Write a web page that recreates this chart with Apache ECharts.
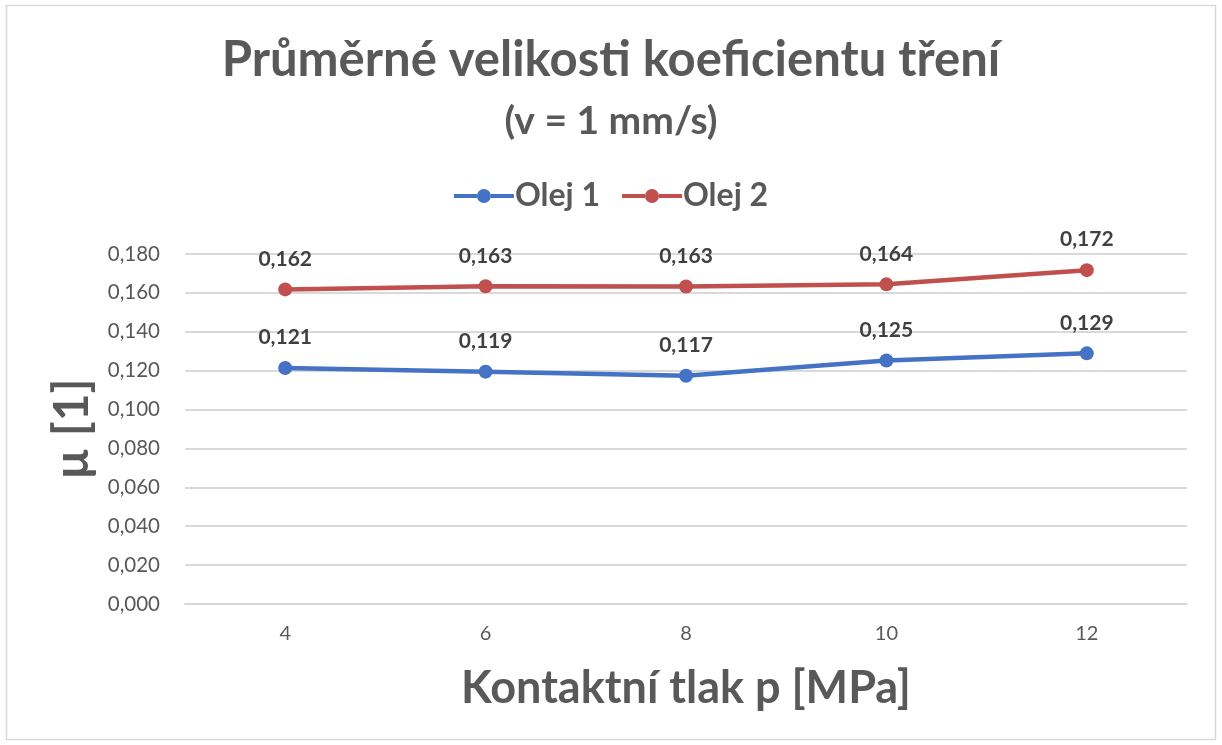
<!DOCTYPE html>
<html><head><meta charset="utf-8">
<script src="https://cdn.jsdelivr.net/npm/echarts@6/dist/echarts.min.js"></script>
<style>html,body{margin:0;padding:0;background:#fff}#c{width:1222px;height:745px}</style>
</head><body><div id="c"></div>
<script>
const categories = ['4', '6', '8', '10', '12'];
const olej1 = [0.1214, 0.1195, 0.1174, 0.1252, 0.1289];
const olej2 = [0.1618, 0.1634, 0.1633, 0.1644, 0.1717];
const seriesNames = ['Olej 1', 'Olej 2'];
const titleText = 'Průměrné velikosti koeficientu tření';
const subtitleText = '(v = 1 mm/s)';
const xName = 'Kontaktní tlak p [MPa]';
const yName = 'µ [1]';

const FONT = 'Lato, "Open Sans", sans-serif';
const fmt = v => v.toFixed(3).replace('.', ',');
const legendIcon = 'path://M0,5 L23,5 L23,9 L0,9 Z M37,5 L60,5 L60,9 L37,9 Z M23,7 A7,7 0 1,1 37,7 A7,7 0 1,1 23,7 Z';
const chart = echarts.init(document.getElementById('c'), null, {renderer: 'canvas'});
const mk = (name, data, color) => ({
  name, type: 'line', data, color,
  symbol: 'circle', symbolSize: 14,
  lineStyle: {width: 4.5, color},
  itemStyle: {color},
  label: {show: true, position: 'top', distance: 13, formatter: p => fmt(p.value),
    fontFamily: FONT, fontWeight: 'bold', fontSize: 21, color: '#404040'},
  emphasis: {disabled: true}
});
chart.setOption({
  animation: false,
  graphic: [{type: 'rect', shape: {x: 6.5, y: 5.5, width: 1209, height: 734},
    style: {fill: 'none', stroke: '#d9d9d9', lineWidth: 1.5}, silent: true}],
  title: [
    {text: titleText, left: 'center', top: 31, textStyle: {fontFamily: FONT, fontWeight: 'bold', fontSize: 49, color: '#595959'}},
    {text: subtitleText, left: 'center', top: 97, textStyle: {fontFamily: FONT, fontWeight: 'bold', fontSize: 39, color: '#595959'}}
  ],
  legend: {top: 175, left: 'center', itemWidth: 60, itemHeight: 14, itemGap: 22,
    icon: legendIcon,
    textStyle: {fontFamily: FONT, fontWeight: 'bold', fontSize: 32, color: '#595959', padding: [0,0,0,-4]},
    data: seriesNames},
  grid: {left: 185, right: 35, top: 254, bottom: 141},
  xAxis: {type: 'category', data: categories, boundaryGap: true,
    name: xName, nameLocation: 'middle', nameGap: 62,
    nameTextStyle: {fontFamily: FONT, fontWeight: 'bold', fontSize: 45, color: '#595959'},
    axisLine: {show: true, lineStyle: {color: '#d9d9d9', width: 2}},
    axisTick: {show: false},
    axisLabel: {fontFamily: FONT, fontSize: 20, color: '#595959', margin: 20}},
  yAxis: {type: 'value', min: 0, max: 0.18, interval: 0.02,
    name: yName, nameLocation: 'middle', nameGap: 86, nameRotate: 90,
    nameTextStyle: {fontFamily: FONT, fontWeight: 'bold', fontSize: 48, color: '#595959'},
    axisLine: {show: false}, axisTick: {show: false},
    splitLine: {lineStyle: {color: '#d9d9d9', width: 2}},
    axisLabel: {fontFamily: FONT, fontSize: 20.5, color: '#595959', margin: 25, formatter: v => fmt(v)}},
  series: [mk(seriesNames[0], olej1, '#4472C4'), mk(seriesNames[1], olej2, '#C0504D')]
});
</script></body></html>
